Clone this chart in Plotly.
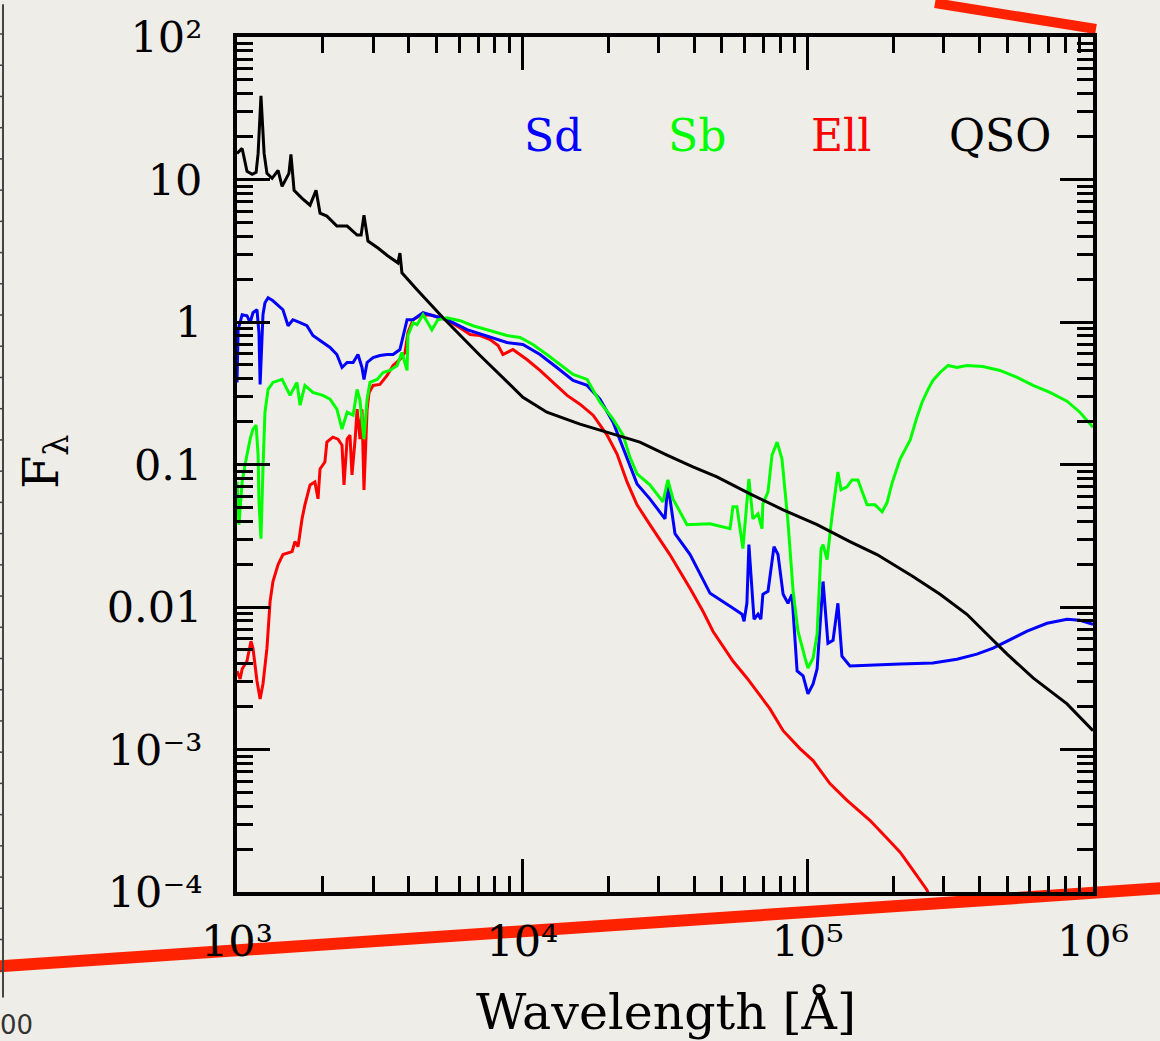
import numpy as np
import plotly.graph_objects as go

# ---- data (log10 of wavelength in Angstrom, log10 of F_lambda) ----
qso_loglam = [3.000, 3.018, 3.035, 3.053, 3.067, 3.074, 3.084, 3.095, 3.105, 3.123, 3.144, 3.158,
              3.182, 3.189, 3.200, 3.228, 3.256, 3.277, 3.291, 3.315, 3.350, 3.386, 3.421, 3.435,
              3.445, 3.459, 3.494, 3.529, 3.564, 3.571, 3.578, 3.631, 3.722, 3.852, 4.002, 4.086,
              4.202, 4.318, 4.412, 4.507, 4.598, 4.682, 4.798, 4.914, 5.033, 5.148, 5.243, 5.369,
              5.464, 5.558, 5.628, 5.699, 5.790, 5.909, 6.000]
qso_logf = [1.183, 1.218, 1.057, 1.036, 1.050, 1.183, 1.588, 1.183, 1.043, 1.008, 1.064, 0.952,
            1.043, 1.176, 0.924, 0.868, 0.820, 0.924, 0.764, 0.743, 0.673, 0.673, 0.610, 0.610,
            0.750, 0.568, 0.519, 0.463, 0.415, 0.484, 0.345, 0.226, 0.030, -0.235, -0.528, -0.633,
            -0.717, -0.787, -0.843, -0.934, -1.017, -1.087, -1.206, -1.318, -1.422, -1.541, -1.632, -1.786,
            -1.911, -2.051, -2.191, -2.331, -2.498, -2.680, -2.868]

sd_loglam = [3.000, 3.004, 3.018, 3.035, 3.046, 3.056, 3.070, 3.077, 3.081, 3.088, 3.091, 3.098,
             3.109, 3.126, 3.144, 3.161, 3.179, 3.196, 3.221, 3.245, 3.266, 3.291, 3.326, 3.350,
             3.368, 3.386, 3.407, 3.424, 3.438, 3.445, 3.456, 3.477, 3.501, 3.526, 3.547, 3.571,
             3.582, 3.596, 3.617, 3.652, 3.676, 3.736, 3.806, 3.887, 3.946, 4.002, 4.062, 4.121,
             4.178, 4.227, 4.272, 4.318, 4.367, 4.402, 4.447, 4.500, 4.510, 4.535, 4.588, 4.633,
             4.658, 4.728, 4.770, 4.777, 4.787, 4.794, 4.812, 4.826, 4.836, 4.843, 4.861, 4.882,
             4.896, 4.914, 4.931, 4.945, 4.963, 4.984, 5.001, 5.019, 5.033, 5.054, 5.071, 5.089,
             5.106, 5.120, 5.148, 5.324, 5.439, 5.523, 5.593, 5.650, 5.699, 5.769, 5.839, 5.909,
             5.954, 6.000]
sd_logf = [-0.424, -0.054, 0.051, 0.044, -0.005, 0.065, 0.086, -0.074, -0.438, -0.074, 0.051, 0.135,
           0.170, 0.149, 0.114, 0.086, -0.026, 0.016, -0.005, -0.026, -0.095, -0.130, -0.179, -0.228,
           -0.319, -0.284, -0.284, -0.228, -0.319, -0.403, -0.284, -0.249, -0.235, -0.228, -0.228, -0.193,
           -0.095, 0.016, 0.016, 0.065, 0.051, 0.016, -0.054, -0.109, -0.144, -0.158, -0.228, -0.319,
           -0.410, -0.445, -0.542, -0.703, -0.948, -1.136, -1.241, -1.381, -1.136, -1.485, -1.632, -1.800,
           -1.904, -1.995, -2.051, -2.100, -1.974, -1.562, -2.086, -2.051, -2.086, -1.911, -1.890, -1.576,
           -1.632, -1.911, -1.974, -1.911, -2.449, -2.484, -2.610, -2.540, -2.435, -1.821, -2.254, -2.233,
           -1.974, -2.345, -2.414, -2.400, -2.393, -2.366, -2.331, -2.289, -2.240, -2.170, -2.114, -2.086,
           -2.093, -2.121]

sb_loglam = [3.000, 3.007, 3.018, 3.028, 3.046, 3.056, 3.067, 3.074, 3.077, 3.084, 3.091, 3.098,
             3.109, 3.126, 3.158, 3.186, 3.210, 3.221, 3.238, 3.266, 3.301, 3.326, 3.350, 3.368,
             3.386, 3.407, 3.421, 3.431, 3.445, 3.456, 3.466, 3.491, 3.512, 3.536, 3.561, 3.578,
             3.596, 3.599, 3.617, 3.631, 3.652, 3.683, 3.704, 3.736, 3.782, 3.827, 3.876, 3.911,
             3.946, 3.992, 4.037, 4.086, 4.132, 4.178, 4.227, 4.272, 4.318, 4.353, 4.377, 4.402,
             4.447, 4.493, 4.510, 4.528, 4.577, 4.658, 4.728, 4.738, 4.752, 4.773, 4.794, 4.808,
             4.826, 4.840, 4.843, 4.861, 4.875, 4.893, 4.910, 4.931, 4.949, 4.966, 4.991, 5.001,
             5.019, 5.033, 5.047, 5.054, 5.068, 5.085, 5.106, 5.117, 5.138, 5.155, 5.176, 5.208,
             5.236, 5.261, 5.278, 5.296, 5.324, 5.359, 5.383, 5.401, 5.422, 5.439, 5.464, 5.492,
             5.523, 5.558, 5.614, 5.674, 5.734, 5.790, 5.849, 5.909, 5.954, 6.000]
sb_logf = [-1.122, -1.422, -1.122, -1.003, -0.822, -0.752, -0.724, -0.934, -1.262, -1.520, -1.031, -0.633,
           -0.473, -0.424, -0.403, -0.515, -0.424, -0.584, -0.445, -0.494, -0.515, -0.542, -0.612, -0.752,
           -0.633, -0.654, -0.473, -0.549, -0.822, -0.542, -0.424, -0.403, -0.354, -0.340, -0.305, -0.214,
           -0.340, -0.095, -0.005, -0.019, 0.051, -0.054, 0.016, 0.030, 0.009, -0.026, -0.054, -0.074,
           -0.095, -0.109, -0.158, -0.228, -0.298, -0.368, -0.403, -0.563, -0.682, -0.794, -0.948, -1.066,
           -1.143, -1.262, -1.108, -1.241, -1.422, -1.416, -1.450, -1.297, -1.297, -1.590, -1.101, -1.381,
           -1.346, -1.450, -1.276, -1.192, -0.934, -0.843, -0.962, -1.402, -1.890, -2.170, -2.359, -2.428,
           -2.359, -2.191, -1.590, -1.562, -1.667, -1.367, -1.052, -1.178, -1.157, -1.108, -1.108, -1.283,
           -1.283, -1.332, -1.269, -1.129, -0.962, -0.829, -0.668, -0.563, -0.473, -0.410, -0.354, -0.305,
           -0.319, -0.305, -0.312, -0.340, -0.389, -0.445, -0.494, -0.556, -0.633, -0.738]

ell_loglam = [3.000, 3.011, 3.018, 3.035, 3.049, 3.056, 3.070, 3.081, 3.091, 3.105, 3.116, 3.126,
              3.144, 3.161, 3.193, 3.203, 3.214, 3.228, 3.238, 3.256, 3.273, 3.284, 3.291, 3.308,
              3.315, 3.336, 3.354, 3.368, 3.375, 3.386, 3.396, 3.403, 3.414, 3.421, 3.431, 3.438,
              3.445, 3.456, 3.463, 3.477, 3.501, 3.526, 3.547, 3.571, 3.589, 3.599, 3.617, 3.641,
              3.676, 3.736, 3.792, 3.817, 3.852, 3.887, 3.915, 3.932, 3.967, 4.016, 4.062, 4.107,
              4.157, 4.202, 4.248, 4.297, 4.332, 4.367, 4.402, 4.447, 4.517, 4.588, 4.633, 4.668,
              4.738, 4.787, 4.868, 4.914, 4.973, 5.019, 5.078, 5.138, 5.218, 5.278, 5.324, 5.369,
              5.418, 5.439]
ell_logf = [-2.449, -2.505, -2.435, -2.379, -2.240, -2.289, -2.519, -2.645, -2.540, -2.289, -1.960, -1.821,
            -1.702, -1.632, -1.611, -1.541, -1.576, -1.381, -1.283, -1.143, -1.122, -1.241, -1.031, -0.983,
            -0.843, -0.808, -0.822, -0.864, -1.143, -0.822, -0.794, -1.073, -0.822, -0.612, -0.822, -0.612,
            -1.178, -0.612, -0.494, -0.445, -0.438, -0.375, -0.305, -0.263, -0.214, -0.074, 0.016, 0.044,
            0.051, 0.016, -0.054, -0.088, -0.095, -0.123, -0.165, -0.228, -0.193, -0.263, -0.340, -0.424,
            -0.515, -0.577, -0.654, -0.794, -0.927, -1.122, -1.283, -1.422, -1.632, -1.870, -2.030, -2.170,
            -2.379, -2.498, -2.715, -2.868, -2.994, -3.078, -3.239, -3.357, -3.497, -3.623, -3.720, -3.846,
            -3.986, -4.091]

series_names = ["Ell", "Sd", "Sb", "QSO"]
series_colors = ["#ff0000", "#0000ff", "#00ff00", "#000000"]

x_tickvals = [1e3, 1e4, 1e5, 1e6]
x_ticktext = ["10³", "10⁴", "10⁵", "10⁶"]
y_tickvals = [1e2, 1e1, 1e0, 1e-1, 1e-2, 1e-3, 1e-4]
y_ticktext = ["10²", "10", "1", "0.1", "0.01", "10⁻³", "10⁻⁴"]

# ---- figure ----
W, H = 1160, 1041
L, R, T, B = 237, 67, 33, 149
PW, PH = W - L - R, H - T - B
BG = "#efede8"


def px(xp):
    return (xp - L) / PW


def py(yp):
    return (H - B - yp) / PH


fig = go.Figure()
data = {
    "Ell": (ell_loglam, ell_logf),
    "Sd": (sd_loglam, sd_logf),
    "Sb": (sb_loglam, sb_logf),
    "QSO": (qso_loglam, qso_logf),
}
for name, color in zip(series_names, series_colors):
    lx, ly = data[name]
    fig.add_trace(go.Scatter(
        x=10 ** np.array(lx), y=10 ** np.array(ly), mode="lines", name=name,
        line=dict(color=color, width=3), showlegend=False, hoverinfo="skip"))

minor_x = [m * 10 ** d for d in range(3, 6) for m in range(2, 10)]
minor_y = [m * 10 ** d for d in range(-4, 2) for m in range(2, 10)]

axis_common = dict(
    type="log", showline=True, linewidth=4, linecolor="black", mirror="allticks",
    ticks="inside", ticklen=33, tickwidth=3, tickcolor="black", tickmode="array",
    showgrid=False, zeroline=False,
    tickfont=dict(family="DejaVu Serif", size=43, color="black"),
)
fig.update_xaxes(
    range=[3, 6], tickvals=x_tickvals, ticktext=x_ticktext, ticklabelstandoff=8,
    minor=dict(ticks="inside", ticklen=16, tickwidth=3, tickcolor="black",
               tickmode="array", tickvals=minor_x, showgrid=False),
    **axis_common)
fig.update_yaxes(
    range=[-4, 2], tickvals=y_tickvals, ticktext=y_ticktext, ticklabelstandoff=22,
    minor=dict(ticks="inside", ticklen=16, tickwidth=3, tickcolor="black",
               tickmode="array", tickvals=minor_y, showgrid=False),
    **axis_common)

# legend-like labels
label_pos = {"Sd": 553, "Sb": 697, "Ell": 841, "QSO": 1000}
annotations = []
for name, color in zip(series_names, series_colors):
    annotations.append(dict(
        x=px(label_pos[name]), y=py(132), xref="paper", yref="paper", text=name,
        showarrow=False, xanchor="center", yanchor="middle",
        font=dict(family="DejaVu Serif", size=44, color=color)))
annotations.append(dict(
    x=px(666), y=py(1013), xref="paper", yref="paper", text="Wavelength [Å]",
    showarrow=False, xanchor="center", yanchor="middle",
    font=dict(family="DejaVu Serif", size=49, color="black")))
annotations.append(dict(
    x=px(44), y=py(460), xref="paper", yref="paper", text="F<sub>λ</sub>",
    showarrow=False, xanchor="center", yanchor="middle", textangle=-90,
    font=dict(family="DejaVu Serif", size=48, color="black")))
annotations.append(dict(
    x=px(-2), y=py(1026), xref="paper", yref="paper", text="00",
    showarrow=False, xanchor="left", yanchor="middle",
    font=dict(family="DejaVu Sans", size=26, color="#333333")))

# decorative slide elements
shapes = [
    dict(type="line", xref="paper", yref="paper", x0=px(935), y0=py(-1), x1=px(1096), y1=py(25),
         line=dict(color="#ff2200", width=10), layer="below"),
    dict(type="line", xref="paper", yref="paper", x0=px(-5), y0=py(967), x1=px(1165), y1=py(888),
         line=dict(color="#ff2200", width=12), layer="below"),
    dict(type="line", xref="paper", yref="paper", x0=px(3), y0=py(0), x1=px(3), y1=py(998),
         line=dict(color="#444444", width=2), layer="below"),
]
for k in range(0, 31):
    yy = 30 + 31.37 * k
    shapes.append(dict(type="line", xref="paper", yref="paper", x0=px(0), y0=py(yy), x1=px(4), y1=py(yy),
                       line=dict(color="#444444", width=1.5), layer="below"))

fig.update_layout(
    width=W, height=H, autosize=False,
    margin=dict(l=L, r=R, t=T, b=B, pad=0),
    paper_bgcolor=BG, plot_bgcolor="rgba(0,0,0,0)",
    annotations=annotations, shapes=shapes, showlegend=False,
)

fig.write_html("out.html")
